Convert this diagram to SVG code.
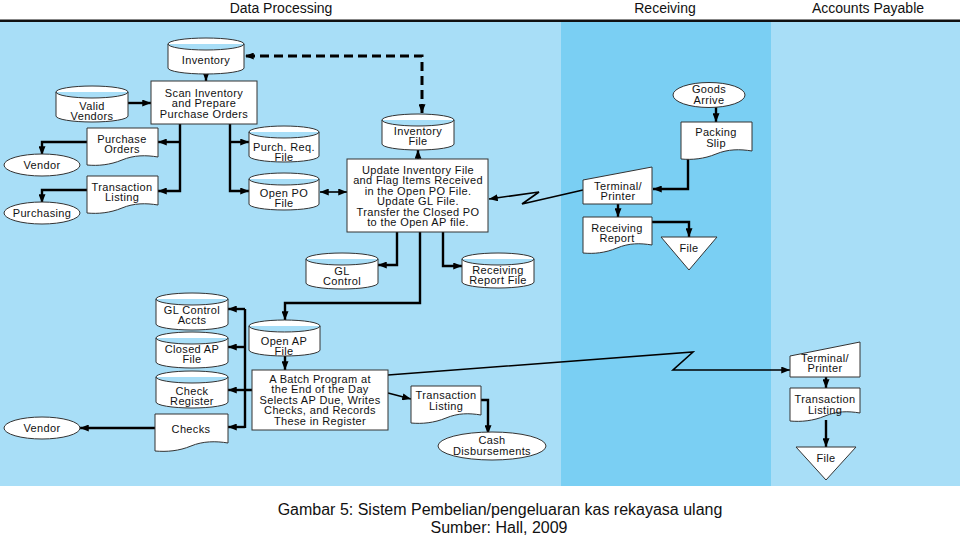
<svg xmlns="http://www.w3.org/2000/svg" width="960" height="540" viewBox="0 0 960 540">
<defs>
<marker id="ah" viewBox="0 0 10 8" refX="10" refY="4" markerWidth="9" markerHeight="7" markerUnits="userSpaceOnUse" orient="auto-start-reverse"><path d="M0,0 L10,4 L0,8 z" fill="#000"/></marker>
</defs>
<style>
.t{font-family:"Liberation Sans",Arial,sans-serif;font-size:11px;letter-spacing:0.35px;text-anchor:middle;fill:#111}
.h{font-family:"Liberation Sans",Arial,sans-serif;font-size:14px;text-anchor:middle;fill:#111}
.cap{font-family:"Liberation Sans",Arial,sans-serif;font-size:16px;text-anchor:middle;fill:#111}
.s{fill:#fff;stroke:#333;stroke-width:1}
.c{fill:none;stroke:#000;stroke-width:2.4}
.cn{fill:none;stroke:#000;stroke-width:1.6}
.d{fill:none;stroke:#000;stroke-width:3;stroke-dasharray:9,5}
</style>
<rect x="0" y="0" width="960" height="540" fill="#fff"/>
<g id="lanes">
<rect x="0" y="22" width="561" height="464" fill="#A8DEF7"/>
<rect x="561" y="22" width="210" height="464" fill="#7ACFF3"/>
<rect x="771" y="22" width="189" height="464" fill="#A8DEF7"/>
<rect x="0" y="19.5" width="960" height="2.5" fill="#111"/>
<text class="h" x="281" y="12.5">Data Processing</text>
<text class="h" x="665" y="12.5">Receiving</text>
<text class="h" x="868" y="12.5">Accounts Payable</text>
</g>
<g id="connectors">
<path class="c" d="M206,74 V81" marker-end="url(#ah)"/>
<path class="c" d="M128,103 H151" marker-end="url(#ah)"/>
<path class="c" d="M180,124 V191 H158" marker-end="url(#ah)"/>
<path class="c" d="M180,142 H158" marker-end="url(#ah)"/>
<path class="c" d="M88,142 H42 V155" marker-end="url(#ah)"/>
<path class="c" d="M88,190 H42 V203" marker-end="url(#ah)"/>
<path class="c" d="M230,124 V191 H249" marker-end="url(#ah)"/>
<path class="c" d="M230,142 H249" marker-end="url(#ah)"/>
<path class="cn" d="M320,192 H347" marker-start="url(#ah)" marker-end="url(#ah)"/>
<path class="c" d="M418,159 V150" marker-end="url(#ah)"/>
<path class="d" d="M422,113 V56 H245" marker-start="url(#ah)" marker-end="url(#ah)"/>
<path class="c" d="M397,232 V265 H378" marker-end="url(#ah)"/>
<path class="c" d="M443,232 V266 H462" marker-end="url(#ah)"/>
<path class="c" d="M420,232 V303 H285 V320" marker-end="url(#ah)"/>
<path class="c" d="M285,356 V370" marker-end="url(#ah)"/>
<path class="c" d="M252,390 H245 M245,309 V428"/>
<path class="c" d="M245,309 H228" marker-end="url(#ah)"/>
<path class="c" d="M245,347 H228" marker-end="url(#ah)"/>
<path class="c" d="M245,390 H228" marker-end="url(#ah)"/>
<path class="c" d="M245,427 H228" marker-end="url(#ah)"/>
<path class="c" d="M155,428 H80" marker-end="url(#ah)"/>
<path class="cn" d="M388,393 L411,399" marker-end="url(#ah)"/>
<path class="c" d="M481,400 H488 V434" marker-end="url(#ah)"/>
<path class="cn" d="M388,375 L693,352 L673,370 H790" marker-end="url(#ah)"/>
<path class="c" d="M716,107 V122" marker-end="url(#ah)"/>
<path class="c" d="M688,157 V189 H653" marker-end="url(#ah)"/>
<path class="c" d="M618,204 V217" marker-end="url(#ah)"/>
<path class="c" d="M652,222 H689 V237" marker-end="url(#ah)"/>
<path class="cn" d="M583,190 L522,204 L539,192 L489,199" marker-end="url(#ah)"/>
<path class="c" d="M826,377 V388" marker-end="url(#ah)"/>
<path class="c" d="M826,420 V447" marker-end="url(#ah)"/>
</g>
<g id="inventory"><path class="s" d="M168,44 A38,6 0 0 1 244,44 V68 A38,6 0 0 1 168,68 Z M168,44 A38,6 0 0 0 244,44"/><text class="t" x="206" y="63.5">Inventory</text></g>
<g id="scan"><rect class="s" x="151" y="81" width="106" height="43"/><text class="t" x="204" y="96.5">Scan Inventory</text><text class="t" x="204" y="107">and Prepare</text><text class="t" x="204" y="117.5">Purchase Orders</text></g>
<g id="validVendors"><path class="s" d="M56,92 A36,6 0 0 1 128,92 V116 A36,6 0 0 1 56,116 Z M56,92 A36,6 0 0 0 128,92"/><text class="t" x="92" y="109.5">Valid</text><text class="t" x="92" y="120">Vendors</text></g>
<g id="purchaseOrders"><path class="s" d="M87,128 H158 V157 C146,155 134,155 122,160 C110,165 98,166 87,165 Z"/><text class="t" x="122" y="142.5">Purchase</text><text class="t" x="122" y="153">Orders</text></g>
<g id="transListing1"><path class="s" d="M87,176 H158 V205 C146,203 134,203 122,208 C110,213 98,214 87,213 Z"/><text class="t" x="122" y="190.5">Transaction</text><text class="t" x="122" y="201">Listing</text></g>
<g id="vendor1"><ellipse class="s" cx="42" cy="165" rx="38" ry="11"/><text class="t" x="42" y="168.5">Vendor</text></g>
<g id="purchasing"><ellipse class="s" cx="42" cy="213" rx="38" ry="11"/><text class="t" x="42" y="216.5">Purchasing</text></g>
<g id="purchReqFile"><path class="s" d="M249,132 A35,6 0 0 1 319,132 V156 A35,6 0 0 1 249,156 Z M249,132 A35,6 0 0 0 319,132"/><text class="t" x="284" y="150.5">Purch. Req.</text><text class="t" x="284" y="161">File</text></g>
<g id="openPOFile"><path class="s" d="M249,179 A35,6 0 0 1 319,179 V204 A35,6 0 0 1 249,204 Z M249,179 A35,6 0 0 0 319,179"/><text class="t" x="284" y="196.5">Open PO</text><text class="t" x="284" y="207">File</text></g>
<g id="inventoryFile"><path class="s" d="M382,120 A36,6 0 0 1 454,120 V144 A36,6 0 0 1 382,144 Z M382,120 A36,6 0 0 0 454,120"/><text class="t" x="418" y="134.5">Inventory</text><text class="t" x="418" y="145">File</text></g>
<g id="update"><rect class="s" x="347" y="159" width="141" height="73"/><text class="t" x="418" y="173.5">Update Inventory File</text><text class="t" x="418" y="184">and Flag Items Received</text><text class="t" x="418" y="194.5">in the Open PO File.</text><text class="t" x="418" y="205">Update GL File.</text><text class="t" x="418" y="215.5">Transfer the Closed PO</text><text class="t" x="418" y="226">to the Open AP file.</text></g>
<g id="glControl"><path class="s" d="M306,259 A36,6 0 0 1 378,259 V283 A36,6 0 0 1 306,283 Z M306,259 A36,6 0 0 0 378,259"/><text class="t" x="342" y="274.5">GL</text><text class="t" x="342" y="285">Control</text></g>
<g id="receivingReportFile"><path class="s" d="M462,259 A36,6 0 0 1 534,259 V282 A36,6 0 0 1 462,282 Z M462,259 A36,6 0 0 0 534,259"/><text class="t" x="498" y="273.5">Receiving</text><text class="t" x="498" y="284">Report File</text></g>
<g id="openAPFile"><path class="s" d="M249,326 A35.5,6 0 0 1 320,326 V350 A35.5,6 0 0 1 249,350 Z M249,326 A35.5,6 0 0 0 320,326"/><text class="t" x="284" y="344.5">Open AP</text><text class="t" x="284" y="355">File</text></g>
<g id="batch"><rect class="s" x="252" y="370" width="136" height="60"/><text class="t" x="320" y="382.5">A Batch Program at</text><text class="t" x="320" y="393">the End of the Day</text><text class="t" x="320" y="403.5">Selects AP Due, Writes</text><text class="t" x="320" y="414">Checks, and Records</text><text class="t" x="320" y="424.5">These in Register</text></g>
<g id="glControlAccts"><path class="s" d="M156,299 A36,6 0 0 1 228,299 V324 A36,6 0 0 1 156,324 Z M156,299 A36,6 0 0 0 228,299"/><text class="t" x="192" y="313.5">GL Control</text><text class="t" x="192" y="324">Accts</text></g>
<g id="closedAPFile"><path class="s" d="M156,338 A36,6 0 0 1 228,338 V362 A36,6 0 0 1 156,362 Z M156,338 A36,6 0 0 0 228,338"/><text class="t" x="192" y="352.5">Closed AP</text><text class="t" x="192" y="363">File</text></g>
<g id="checkRegister"><path class="s" d="M156,377 A36,6 0 0 1 228,377 V402 A36,6 0 0 1 156,402 Z M156,377 A36,6 0 0 0 228,377"/><text class="t" x="192" y="394.5">Check</text><text class="t" x="192" y="405">Register</text></g>
<g id="checks"><path class="s" d="M155,414 H228 V443 C216,441 203,441 191,446 C179,451 167,452 155,451 Z"/><text class="t" x="191" y="432.5">Checks</text></g>
<g id="vendor2"><ellipse class="s" cx="42" cy="428" rx="38" ry="11"/><text class="t" x="42" y="431.5">Vendor</text></g>
<g id="transListing2"><path class="s" d="M411,386 H481 V415 C469,413 458,413 446,418 C434,423 422,424 411,423 Z"/><text class="t" x="446" y="398.5">Transaction</text><text class="t" x="446" y="409.5">Listing</text></g>
<g id="cashDisbursements"><ellipse class="s" cx="492" cy="446" rx="54" ry="14"/><text class="t" x="492" y="443.5">Cash</text><text class="t" x="492" y="454.5">Disbursements</text></g>
<g id="goodsArrive"><ellipse class="s" cx="709" cy="95" rx="36" ry="12.5"/><text class="t" x="709" y="93">Goods</text><text class="t" x="709" y="103.5">Arrive</text></g>
<g id="packingSlip"><path class="s" d="M681,122 H752 V151 C740,149 728,149 716,154 C704,159 692,160 681,159 Z"/><text class="t" x="716" y="135.5">Packing</text><text class="t" x="716" y="146.5">Slip</text></g>
<g id="recvTerminal"><path class="s" d="M583,180 L652,167 V204 H583 Z"/><text class="t" x="618" y="189.5">Terminal/</text><text class="t" x="618" y="200">Printer</text></g>
<g id="receivingReport"><path class="s" d="M583,217 H652 V245 C640,243 629,243 617,248 C605,253 594,254 583,253 Z"/><text class="t" x="617" y="231.5">Receiving</text><text class="t" x="617" y="242">Report</text></g>
<g id="recvFile"><path class="s" d="M661,237 H717 L689,270 Z"/><text class="t" x="689" y="252">File</text></g>
<g id="apTerminal"><path class="s" d="M790,356 L860,342 V377 H790 Z"/><text class="t" x="825" y="361.5">Terminal/</text><text class="t" x="825" y="372">Printer</text></g>
<g id="apTransListing"><path class="s" d="M790,388 H860 V413 C848,411 837,411 825,416 C813,421 801,422 790,421 Z"/><text class="t" x="825" y="402.5">Transaction</text><text class="t" x="825" y="413.5">Listing</text></g>
<g id="apFile"><path class="s" d="M796,447 H856 L826,480 Z"/><text class="t" x="826" y="462">File</text></g>
<g id="caption">
<text class="cap" x="500" y="515">Gambar 5: Sistem Pembelian/pengeluaran kas rekayasa ulang</text>
<text class="cap" x="499" y="533">Sumber: Hall, 2009</text>
</g>
</svg>
